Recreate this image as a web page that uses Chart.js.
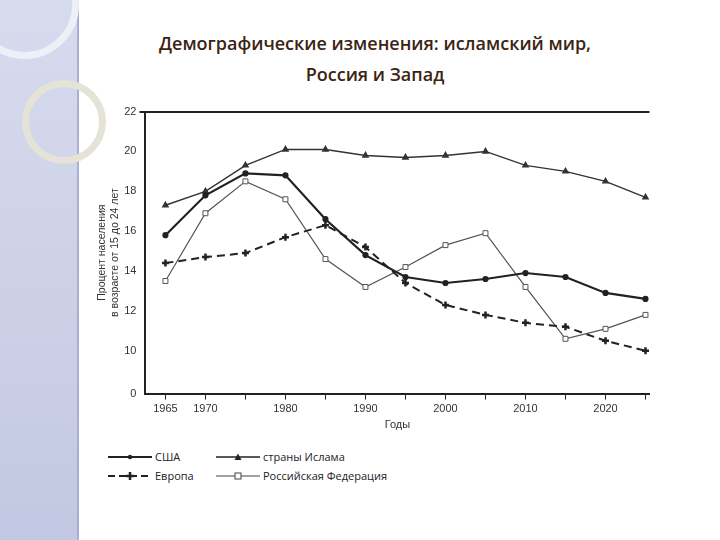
<!DOCTYPE html>
<html><head><meta charset="utf-8">
<script src="https://cdn.jsdelivr.net/npm/chart.js@4"></script>
<style>
body{margin:0;width:720px;height:540px;background:#fff;position:relative;overflow:hidden;font-family:"Open Sans",sans-serif}
#side{position:absolute;left:0;top:0;width:77px;height:540px;background:linear-gradient(#d7dbee,#c3c8e2)}
#edge{position:absolute;left:77px;top:0;width:2px;height:540px;background:#a9afd3}
.ring{position:absolute;border-radius:50%;border:7px solid #e4e2d6}
#title{position:absolute;left:90px;top:28px;width:570px;text-align:center;font-size:18px;font-weight:600;line-height:31px;color:#3b2412}
#wrap{position:absolute;left:96px;top:102px;width:560px;height:330px}
#legend{position:absolute;left:108px;top:447px;font-size:11px;color:#222;font-family:"Open Sans",sans-serif;white-space:nowrap}
#legend div{display:flex;align-items:center;height:19px}
#legend span.it{display:inline-flex;align-items:center;width:108px}
#legend span.it2{display:inline-flex;align-items:center}
svg{margin-right:3px}
</style></head><body>
<div id="side"></div><div id="edge"></div>
<div class="ring" style="left:-30px;top:-50px;width:95px;height:95px;border-color:#eef0f8"></div>
<div class="ring" style="left:22px;top:80px;width:70px;height:70px;border-color:#e5e3d7"></div>
<div id="title">Демографические изменения: исламский мир,<br>Россия и Запад</div>
<div id="wrap"><canvas id="c"></canvas></div>
<div id="legend">
<div><span class="it"><svg width="44" height="8"><line x1="0" y1="4" x2="44" y2="4" stroke="#222" stroke-width="2.2"/><circle cx="22" cy="4" r="2.2" fill="#222"/></svg>США</span><span class="it2"><svg width="44" height="8"><line x1="0" y1="4" x2="44" y2="4" stroke="#222" stroke-width="1.4"/><path d="M22 0.5 L25.5 7 L18.5 7Z" fill="#222"/></svg>страны Ислама</span></div>
<div><span class="it"><svg width="44" height="10"><line x1="0" y1="5" x2="44" y2="5" stroke="#222" stroke-width="2" stroke-dasharray="7,4"/><path d="M22 1 L22 9 M18 5 L26 5" stroke="#222" stroke-width="2.5"/></svg>Европа</span><span class="it2"><svg width="44" height="8"><line x1="0" y1="4" x2="44" y2="4" stroke="#444" stroke-width="1.2"/><rect x="19" y="1" width="6" height="6" fill="#fff" stroke="#444"/></svg>Российская Федерация</span></div>
</div>
<script>
const years = [1965,1970,1975,1980,1985,1990,1995,2000,2005,2010,2015,2020,2025];
const usa = [15.8,17.8,18.9,18.8,16.6,14.8,13.7,13.4,13.6,13.9,13.7,12.9,12.6];
const islam = [17.3,18.0,19.3,20.1,20.1,19.8,19.7,19.8,20.0,19.3,19.0,18.5,17.7];
const europe = [14.4,14.7,14.9,15.7,16.3,15.2,13.4,12.3,11.8,11.4,11.2,10.5,10.0];
const russia = [13.5,16.9,18.5,17.6,14.6,13.2,14.2,15.3,15.9,13.2,10.6,11.1,11.8];
const xLabels = [1965,1970,1980,1990,2000,2010,2020];
const yLabels = [10,12,14,16,18,20,22];
const yZero = 7.85; // axis break: "0" drawn just below 10

const pts = a => a.map((v,i)=>({x:years[i],y:v}));
new Chart(document.getElementById('c'), {
  type:'line',
  data:{datasets:[
    {label:'США',data:pts(usa),borderColor:'#222',backgroundColor:'#222',borderWidth:2.2,pointRadius:2,pointStyle:'circle'},
    {label:'страны Ислама',data:pts(islam),borderColor:'#333',backgroundColor:'#333',borderWidth:1.4,pointRadius:3,pointStyle:'triangle'},
    {label:'Европа',data:pts(europe),borderColor:'#222',backgroundColor:'#222',borderWidth:2,borderDash:[8,5],pointRadius:3.5,pointStyle:'cross',pointBorderWidth:2.5},
    {label:'Российская Федерация',data:pts(russia),borderColor:'#555',backgroundColor:'#fff',borderWidth:1.2,pointRadius:3.5,pointStyle:'rect',pointBorderWidth:1}
  ]},
  options:{
    responsive:true,maintainAspectRatio:false,animation:false,
    layout:{padding:{right:6,top:4}},
    plugins:{legend:{display:false},tooltip:{enabled:false}},
    scales:{
      x:{type:'linear',min:1962.5,max:2025.5,
        afterBuildTicks:s=>{s.ticks=years.map(v=>({value:v}));},
        ticks:{autoSkip:false,maxRotation:0,color:'#333',font:{size:11},callback:v=>xLabels.includes(v)?String(v):''},
        grid:{drawOnChartArea:false,tickLength:6,color:'#222'},
        border:{color:'#222',width:2},
        title:{display:true,text:'Годы',color:'#333',font:{size:11},padding:0}},
      y:{min:yZero,max:22,
        afterBuildTicks:s=>{s.ticks=[{value:yZero}].concat(yLabels.map(v=>({value:v})));},
        ticks:{autoSkip:false,color:'#333',font:{size:11},callback:v=>v===yZero?'0':String(v)},
        grid:{drawOnChartArea:true,tickLength:6,color:c=>c.tick&&c.tick.value===22?'#222':'rgba(0,0,0,0)',lineWidth:c=>c.tick&&c.tick.value===22?2:0},
        border:{color:'#222',width:2},
        title:{display:true,text:['Процент населения','в возрасте от 15 до 24 лет'],color:'#333',font:{size:10.5},padding:0}}
    }
  }
});
</script>
</body></html>
